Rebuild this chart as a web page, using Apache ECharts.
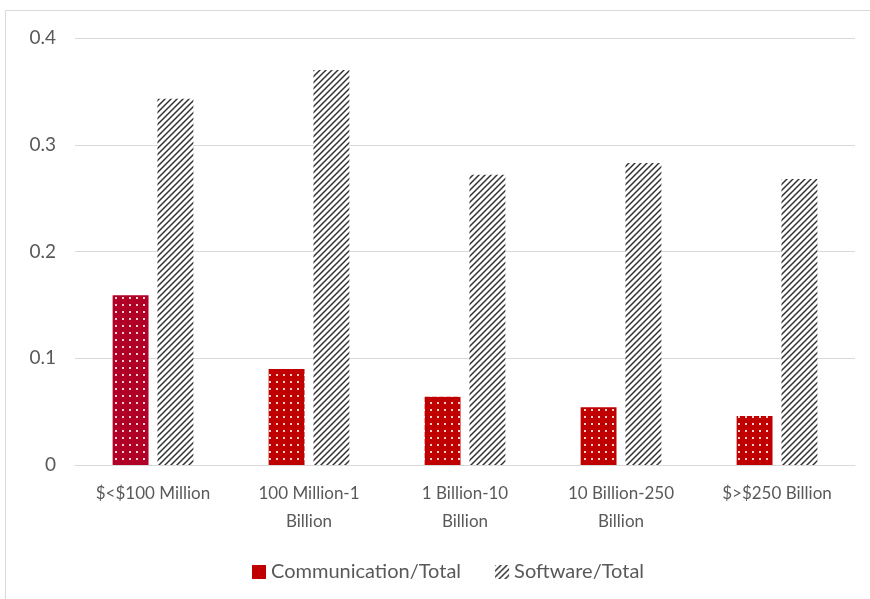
<!DOCTYPE html>
<html>
<head>
<meta charset="utf-8">
<script src="https://cdn.jsdelivr.net/npm/echarts@6/dist/echarts.min.js"></script>
<style>
  html, body { margin: 0; padding: 0; background: #fff; }
  #chart { width: 870px; height: 599px; }
</style>
</head>
<body>
<div id="chart"></div>
<script>
const categories = ['$<$100 Million', '100 Million-1\nBillion', '1 Billion-10\nBillion', '10 Billion-250\nBillion', '$>$250 Billion'];
const communication = [0.159, 0.090, 0.064, 0.054, 0.046];
const software = [0.343, 0.370, 0.272, 0.283, 0.268];
const yTicks = [0, 0.1, 0.2, 0.3, 0.4];

// Red fill with a grid of light dots
function dotPattern(base) {
  const c = document.createElement('canvas');
  c.width = 7; c.height = 7;
  const g = c.getContext('2d');
  g.fillStyle = base;
  g.fillRect(0, 0, 7, 7);
  g.fillStyle = '#f8d0d0';
  g.fillRect(3, 3, 2, 2);
  return { image: c, repeat: 'repeat' };
}

// White fill with dark diagonal hatching (lines x + y = const)
function hatchPattern() {
  const s = 6;
  const c = document.createElement('canvas');
  c.width = s; c.height = s;
  const g = c.getContext('2d');
  g.fillStyle = '#ffffff';
  g.fillRect(0, 0, s, s);
  g.strokeStyle = '#333333';
  g.lineWidth = 1.5;
  g.beginPath();
  for (let k = 0; k <= 2; k++) {
    const c0 = k * s;
    g.moveTo(c0 + 1, -1);
    g.lineTo(-1, c0 + 1);
  }
  g.stroke();
  return { image: c, repeat: 'repeat' };
}

const redMain = dotPattern('#c00000');
const redFirst = dotPattern('#b00028');
const hatch = hatchPattern();

const chart = echarts.init(document.getElementById('chart'));
const font = 'Lato, "Open Sans", sans-serif';

chart.setOption({
  animation: false,
  backgroundColor: '#ffffff',
  textStyle: { fontFamily: font },
  graphic: [{
    type: 'rect',
    shape: { x: 5.5, y: 10.5, width: 880, height: 600 },
    style: { fill: 'none', stroke: '#d9d9d9', lineWidth: 1 },
    silent: true
  }],
  grid: { left: 75, right: 15, top: 38, bottom: 134 },
  legend: {
    top: 557,
    left: 247,
    itemWidth: 14,
    itemHeight: 14,
    itemGap: 34,
    textStyle: { color: '#595959', fontSize: 20, fontFamily: font },
    data: [
      { name: 'Communication/Total', icon: 'rect', itemStyle: { color: '#c00000' } },
      { name: 'Software/Total', icon: 'rect' }
    ]
  },
  xAxis: {
    type: 'category',
    data: categories,
    axisLine: { lineStyle: { color: '#d9d9d9' } },
    axisTick: { show: false },
    axisLabel: {
      color: '#595959', fontSize: 17, lineHeight: 28, margin: 15,
      interval: 0, fontFamily: font
    }
  },
  yAxis: {
    type: 'value',
    min: yTicks[0],
    max: yTicks[yTicks.length - 1],
    interval: 0.1,
    axisLine: { show: false },
    axisTick: { show: false },
    splitLine: { lineStyle: { color: '#d9d9d9' } },
    axisLabel: {
      color: '#595959', fontSize: 19, margin: 19, fontFamily: font,
      formatter: v => (v === 0 ? '0' : v.toFixed(1))
    }
  },
  series: [
    {
      name: 'Communication/Total',
      type: 'bar',
      barWidth: '23%',
      barGap: '25%',
      data: communication.map((v, i) => ({ value: v, itemStyle: { color: i === 0 ? redFirst : redMain } })),
      itemStyle: { color: redMain }
    },
    {
      name: 'Software/Total',
      type: 'bar',
      barWidth: '23%',
      data: software,
      itemStyle: { color: hatch }
    }
  ]
});
</script>
</body>
</html>
